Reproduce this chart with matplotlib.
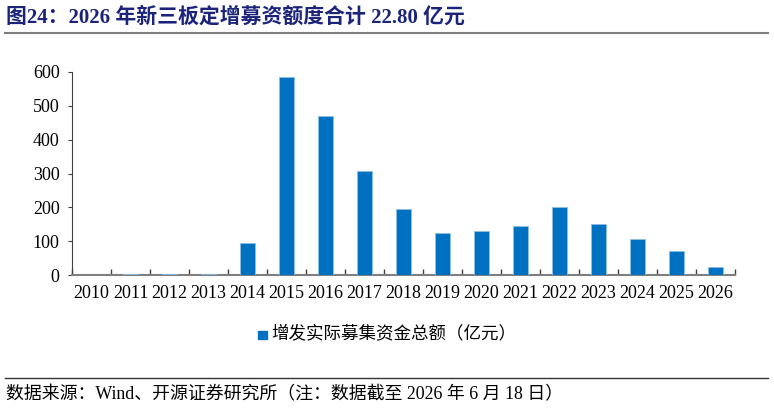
import matplotlib
matplotlib.use("Agg")
import matplotlib.pyplot as plt
from matplotlib.lines import Line2D
from matplotlib.patches import Rectangle

plt.rcParams['font.family'] = ['Liberation Serif', 'Noto Sans CJK SC']

# data
years = ['2010', '2011', '2012', '2013', '2014', '2015', '2016', '2017', '2018',
         '2019', '2020', '2021', '2022', '2023', '2024', '2025', '2026']
amounts = [0.5, 3, 2, 4, 94, 584, 469, 307, 195,
           123, 129, 145, 200, 152, 107, 71, 22.8]
yticks = [0, 100, 200, 300, 400, 500, 600]

title = '图24：2026 年新三板定增募资额度合计 22.80 亿元'
legend_label = '增发实际募集资金总额（亿元）'
source = '数据来源：Wind、开源证券研究所（注：数据截至 2026 年 6 月 18 日）'

W, H = 774, 408
fig = plt.figure(figsize=(W / 100, H / 100), dpi=100)

bar_color = '#0070C0'
ax = fig.add_axes([72 / W, 1 - 275 / H, (735 - 72) / W, (275 - 72) / H])
x = list(range(len(years)))
ax.bar(x, amounts, width=0.4, color=bar_color, edgecolor='#8CC0E8',
       linewidth=0.6, zorder=3)

ax.set_xlim(-0.5, len(years) - 0.5)
ax.set_ylim(0, 600)
ax.set_yticks(yticks)
ax.set_xticks(x)
ax.set_xticklabels(years)
ax.set_xticks([i - 0.5 for i in range(len(years) + 1)], minor=True)

ax.tick_params(axis='x', which='major', length=0, pad=7, labelsize=13)
ax.tick_params(axis='x', which='minor', direction='in', length=4, width=1, color='#404040')
ax.tick_params(axis='y', which='major', direction='out', length=3, width=0.8,
               color='#404040', pad=6, labelsize=13)

for s in ['top', 'right']:
    ax.spines[s].set_visible(False)
ax.spines['left'].set_color('#404040')
ax.spines['left'].set_linewidth(0.8)
ax.spines['bottom'].set_color('#7f7f7f')
ax.spines['bottom'].set_linewidth(1.5)

# title and rules
fig.text(6 / W, 1 - 17 / H, title, fontsize=15, fontweight='bold', color='#1B237A',
         ha='left', va='center')
fig.add_artist(Line2D([5 / W, 768 / W], [1 - 33 / H, 1 - 33 / H], color='#7f7f7f', lw=1.5))

# legend
fig.add_artist(Rectangle((258 / W, 1 - 339 / H), 9 / W, 8 / H, color=bar_color,
                         transform=fig.transFigure))
fig.text(271 / W, 1 - 335 / H, legend_label, fontsize=12.6, ha='left', va='center')

# source
fig.add_artist(Line2D([5 / W, 768 / W], [1 - 378 / H, 1 - 378 / H], color='#333333', lw=1))
fig.text(6 / W, 1 - 395 / H, source, fontsize=12.9, ha='left', va='center')

fig.savefig('out.png', dpi=100)
